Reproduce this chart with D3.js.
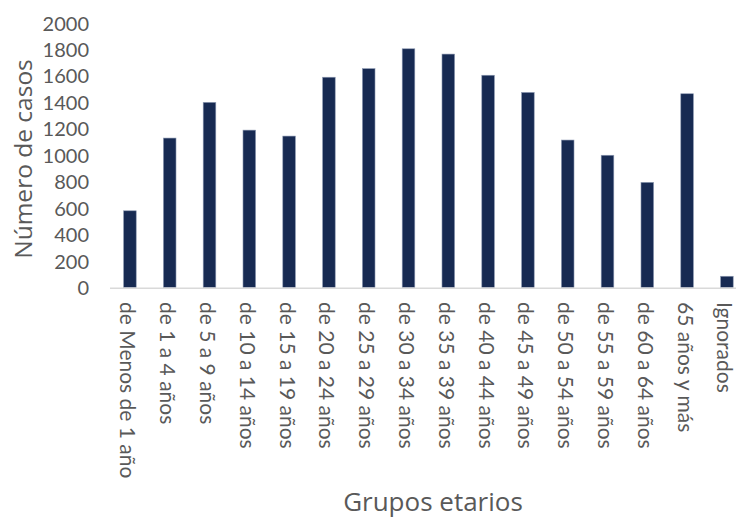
<!DOCTYPE html>
<html>
<head>
<meta charset="utf-8">
<script src="https://cdn.jsdelivr.net/npm/d3@7"></script>
<style>
html,body{margin:0;padding:0;background:#fff;}
</style>
</head>
<body>
<svg id="chart" width="736" height="519"></svg>
<script>
const categories = ["de Menos de 1 año","de 1 a 4 años","de 5 a 9 años","de 10 a 14 años","de 15 a 19 años","de 20 a 24 años","de 25 a 29 años","de 30 a 34 años","de 35 a 39 años","de 40 a 44 años","de 45 a 49 años","de 50 a 54 años","de 55 a 59 años","de 60 a 64 años","65 años y más","Ignorados"];
const casos = [580,1130,1400,1190,1145,1590,1655,1805,1765,1605,1475,1115,1000,795,1465,85];
const yTicks = [0,200,400,600,800,1000,1200,1400,1600,1800,2000];
const yTitle = "Número de casos";
const xTitle = "Grupos etarios";

const svg = d3.select("#chart");
const x = d3.scaleBand().domain(categories).range([110, 110 + 16*39.8]).paddingInner(0.683).paddingOuter(0.3415);
const y = d3.scaleLinear().domain([0,2000]).range([287.5, 23]);

// bars
svg.append("g").selectAll("rect").data(categories).join("rect")
  .attr("x", d => x(d))
  .attr("width", x.bandwidth())
  .attr("y", (d,i) => y(casos[i]))
  .attr("height", (d,i) => y(0) - y(casos[i]))
  .attr("fill", "#172a52")
  .attr("stroke", "#8e9ab3")
  .attr("stroke-width", 0.6);

// x axis line
svg.append("line").attr("x1", 110).attr("x2", 736).attr("y1", 288.3).attr("y2", 288.3)
  .attr("stroke", "#d9d9d9").attr("stroke-width", 1.5);

// y axis tick labels
const yAxis = d3.axisLeft(y).tickValues(yTicks).tickSize(0).tickPadding(0).tickFormat(d3.format("d"));
const gy = svg.append("g").attr("transform", "translate(89,0)").call(yAxis);
gy.select(".domain").remove();
gy.selectAll("text").attr("font-family", "Lato, sans-serif").attr("font-size", 20).attr("fill", "#595959").attr("dy", "0.35em");

// x labels
const xAxis = d3.axisBottom(x).tickSize(0).tickPadding(0);
const gx = svg.append("g").attr("transform", "translate(0,302)").call(xAxis);
gx.select(".domain").remove();
gx.selectAll("text")
  .attr("font-family", "Lato, sans-serif").attr("font-size", 21).attr("fill", "#595959")
  .attr("text-anchor", "start").attr("dy", "0.45em").attr("y", 0)
  .attr("transform", "rotate(90)");

// titles
svg.append("text").attr("transform", "translate(31.5,159) rotate(-90)")
  .attr("text-anchor", "middle").attr("font-family", "'Open Sans', sans-serif").attr("font-size", 24.5)
  .attr("fill", "#595959").text(yTitle);
svg.append("text").attr("x", 433).attr("y", 511)
  .attr("text-anchor", "middle").attr("font-family", "'Open Sans', sans-serif").attr("font-size", 26)
  .attr("fill", "#595959").text(xTitle);
</script>
</body>
</html>
